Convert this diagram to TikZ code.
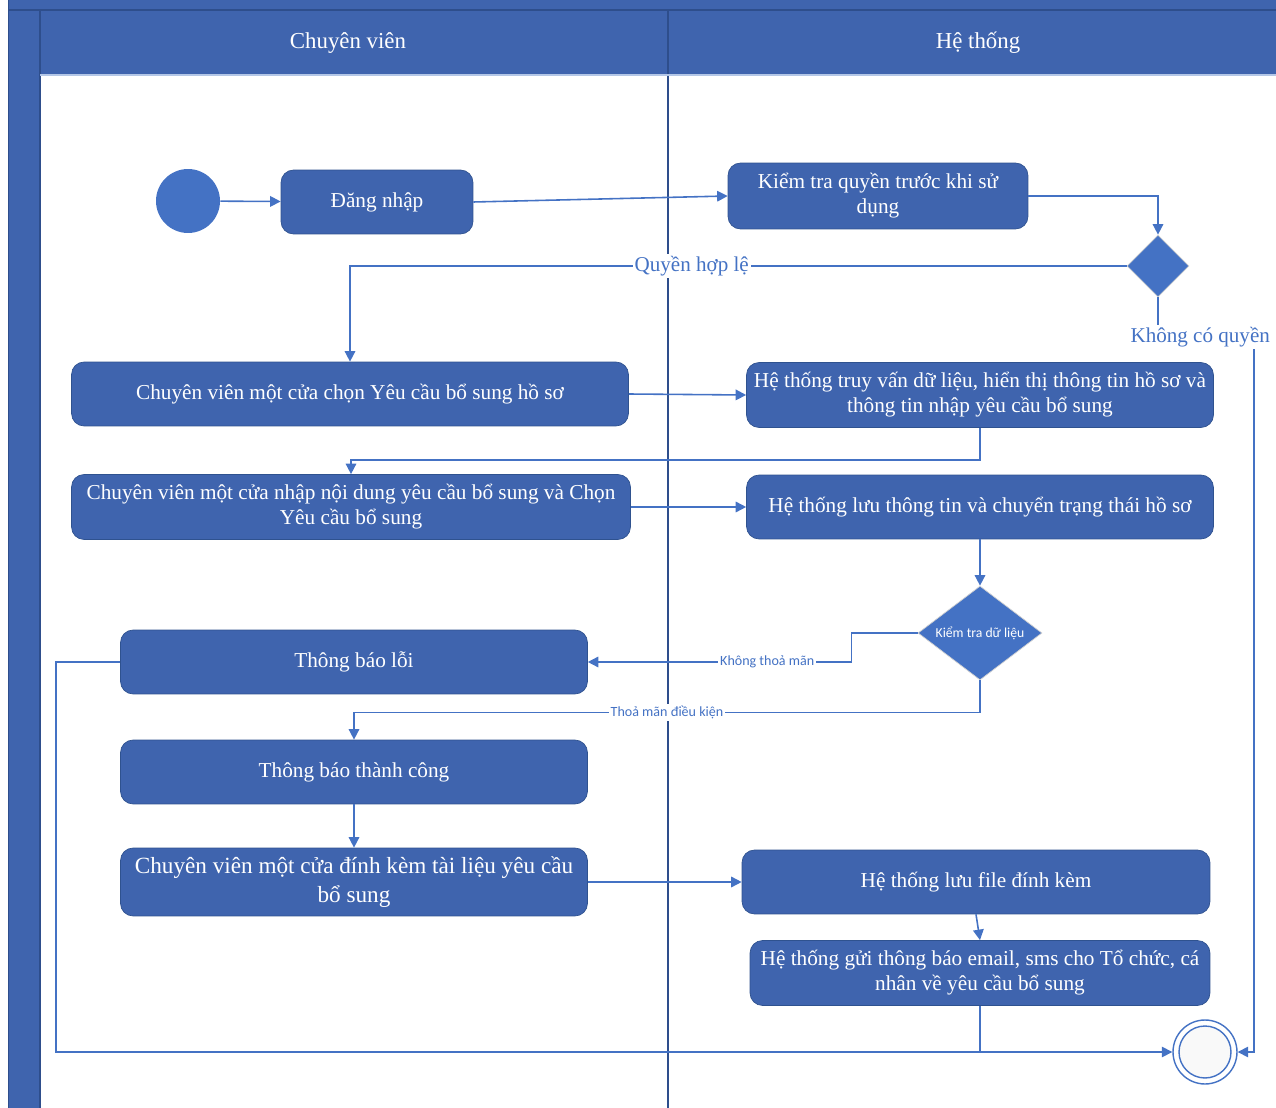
\documentclass[tikz,border=0pt]{standalone}
\usepackage{fontspec}
\setmainfont{Liberation Serif}
\newfontfamily\labelfont{Carlito}
\usetikzlibrary{arrows.meta, shapes.geometric}

\definecolor{laneblue}{RGB}{63,100,174}
\definecolor{lanedark}{RGB}{46,78,140}
\definecolor{flowblue}{RGB}{68,114,196}
\definecolor{stepedge}{RGB}{47,82,143}

\begin{document}
\begin{tikzpicture}[x=0.02cm, y=-0.02cm,
	action/.style={draw=stepedge, fill=laneblue, rounded corners=0.25cm, text=white, align=center, font=\fontsize{12.1}{14.2}\selectfont, inner sep=2pt},
	choice/.style={diamond, draw=gray!35, fill=flowblue, inner sep=0pt, text=white, font=\labelfont\fontsize{7.8}{9}\selectfont},
	flow/.style={draw=flowblue, line width=0.9pt, -{Triangle[length=6pt,width=6pt]}},
	link/.style={draw=flowblue, line width=0.9pt},
	guard/.style={fill=white, text=flowblue, inner sep=1pt, font=\fontsize{12}{14}\selectfont},
	smallguard/.style={fill=white, text=flowblue, inner sep=1pt, font=\labelfont\fontsize{8}{9}\selectfont},
	lanetitle/.style={text=white, font=\fontsize{13}{15}\selectfont}]
	\useasboundingbox (0,0) rectangle (1276,1108);
	
	% Swimlane frame
	\fill[laneblue] (8,0) rectangle (1276,75);
	\fill[laneblue] (8,0) rectangle (40,1108);
	\draw[lanedark, line width=0.8pt] (8,10) -- (1276,10);
	\draw[lanedark, line width=0.8pt] (40,10) -- (40,1108);
	\draw[lanedark] (8,0) -- (8,1108);
	\draw[lanedark, line width=1pt] (668,10) -- (668,1108);
	\draw[flowblue!40, line width=0.8pt] (40,75) -- (1276,75);
	\node[lanetitle] (laneuser) at (348,43) {Chuyên viên};
	\node[lanetitle] (lanesys) at (978,43) {Hệ thống};
	
	% Start and end
	\node[circle, fill=flowblue, minimum size=1.28cm, inner sep=0pt] (start) at (188,201) {};
	\node[circle, draw=flowblue, line width=0.8pt, fill=white, minimum size=1.28cm, inner sep=0pt] (end) at (1205,1052) {};
	\node[circle, draw=flowblue, line width=0.8pt, fill=gray!5, minimum size=1.04cm, inner sep=0pt] (endin) at (1205,1052) {};
	
	% Actions of the specialist
	\node[action, minimum width=3.84cm, minimum height=1.28cm] (dangnhap) at (377,202) {Đăng nhập};
	\node[action, minimum width=11.14cm, minimum height=1.28cm] (chon) at (350,394) {Chuyên viên một cửa chọn Yêu cầu bổ sung hồ sơ};
	\node[action, minimum width=11.18cm, minimum height=1.3cm] (nhap) at (351,507) {Chuyên viên một cửa nhập nội dung yêu cầu bổ sung và Chọn\\Yêu cầu bổ sung};
	\node[action, minimum width=9.34cm, minimum height=1.28cm] (loi) at (354,662) {Thông báo lỗi};
	\node[action, minimum width=9.34cm, minimum height=1.28cm] (thanhcong) at (354,772) {Thông báo thành công};
	\node[action, minimum width=9.34cm, minimum height=1.36cm, font=\fontsize{13.2}{16.4}\selectfont] (dinhkem) at (354,882) {Chuyên viên một cửa đính kèm tài liệu yêu cầu\\bổ sung};
	
	% Actions of the system
	\node[action, minimum width=6cm, minimum height=1.32cm] (kiemtra) at (878,196) {Kiểm tra quyền trước khi sử\\dụng};
	\node[choice, minimum width=1.24cm, minimum height=1.24cm] (quyen) at (1158,266) {};
	\node[action, minimum width=9.34cm, minimum height=1.3cm] (truyvan) at (980,395) {Hệ thống truy vấn dữ liệu, hiển thị thông tin hồ sơ và\\thông tin nhập yêu cầu bổ sung};
	\node[action, minimum width=9.34cm, minimum height=1.28cm] (luutt) at (980,507) {Hệ thống lưu thông tin và chuyển trạng thái hồ sơ};
	\node[choice, aspect=1.32, minimum width=2.48cm, minimum height=1.88cm] (dulieu) at (980,633) {Kiểm tra dữ liệu};
	\node[action, minimum width=9.36cm, minimum height=1.28cm] (luufile) at (976,882) {Hệ thống lưu file đính kèm};
	\node[action, minimum width=9.2cm, minimum height=1.3cm] (guitb) at (980,973) {Hệ thống gửi thông báo email, sms cho Tổ chức, cá\\nhân về yêu cầu bổ sung};
	
	% Control flow
	\draw[flow] (start) -- (dangnhap);
	\draw[flow] (dangnhap.east) -- (kiemtra.west);
	\draw[flow] (kiemtra.east) -| (quyen.north);
	\draw[flow] (quyen.west) -| node[guard, pos=0.28] {Quyền hợp lệ} (chon.north);
	\coordinate (khongquyen) at (1254,337);
	\draw[flow] (quyen.south) |- node[guard, pos=0.72] {Không có quyền} (khongquyen) |- (end.east);
	\draw[flow] (chon.east) -- (truyvan.west);
	\draw[flow] (truyvan.south) -- ++(0,32) -| (nhap.north);
	\draw[flow] (nhap.east) -- (luutt.west);
	\draw[flow] (luutt.south) -- (dulieu.north);
	\draw[flow] (dulieu.west) -- ++(-66,0) |- node[smallguard, pos=0.66] {Không thoả mãn} (loi.east);
	\draw[flow] (dulieu.south) -- ++(0,32) -| node[smallguard, pos=0.25] {Thoả mãn điều kiện} (thanhcong.north);
	\draw[flow] (thanhcong) -- (dinhkem);
	\draw[flow] (dinhkem) -- (luufile);
	\draw[flow] (luufile.south) -- (guitb.north);
	\draw[link] (guitb.south) -- (guitb.south |- end.west);
	\draw[flow] (loi.west) -- ++(-64,0) |- (end.west);
\end{tikzpicture}
\end{document}
